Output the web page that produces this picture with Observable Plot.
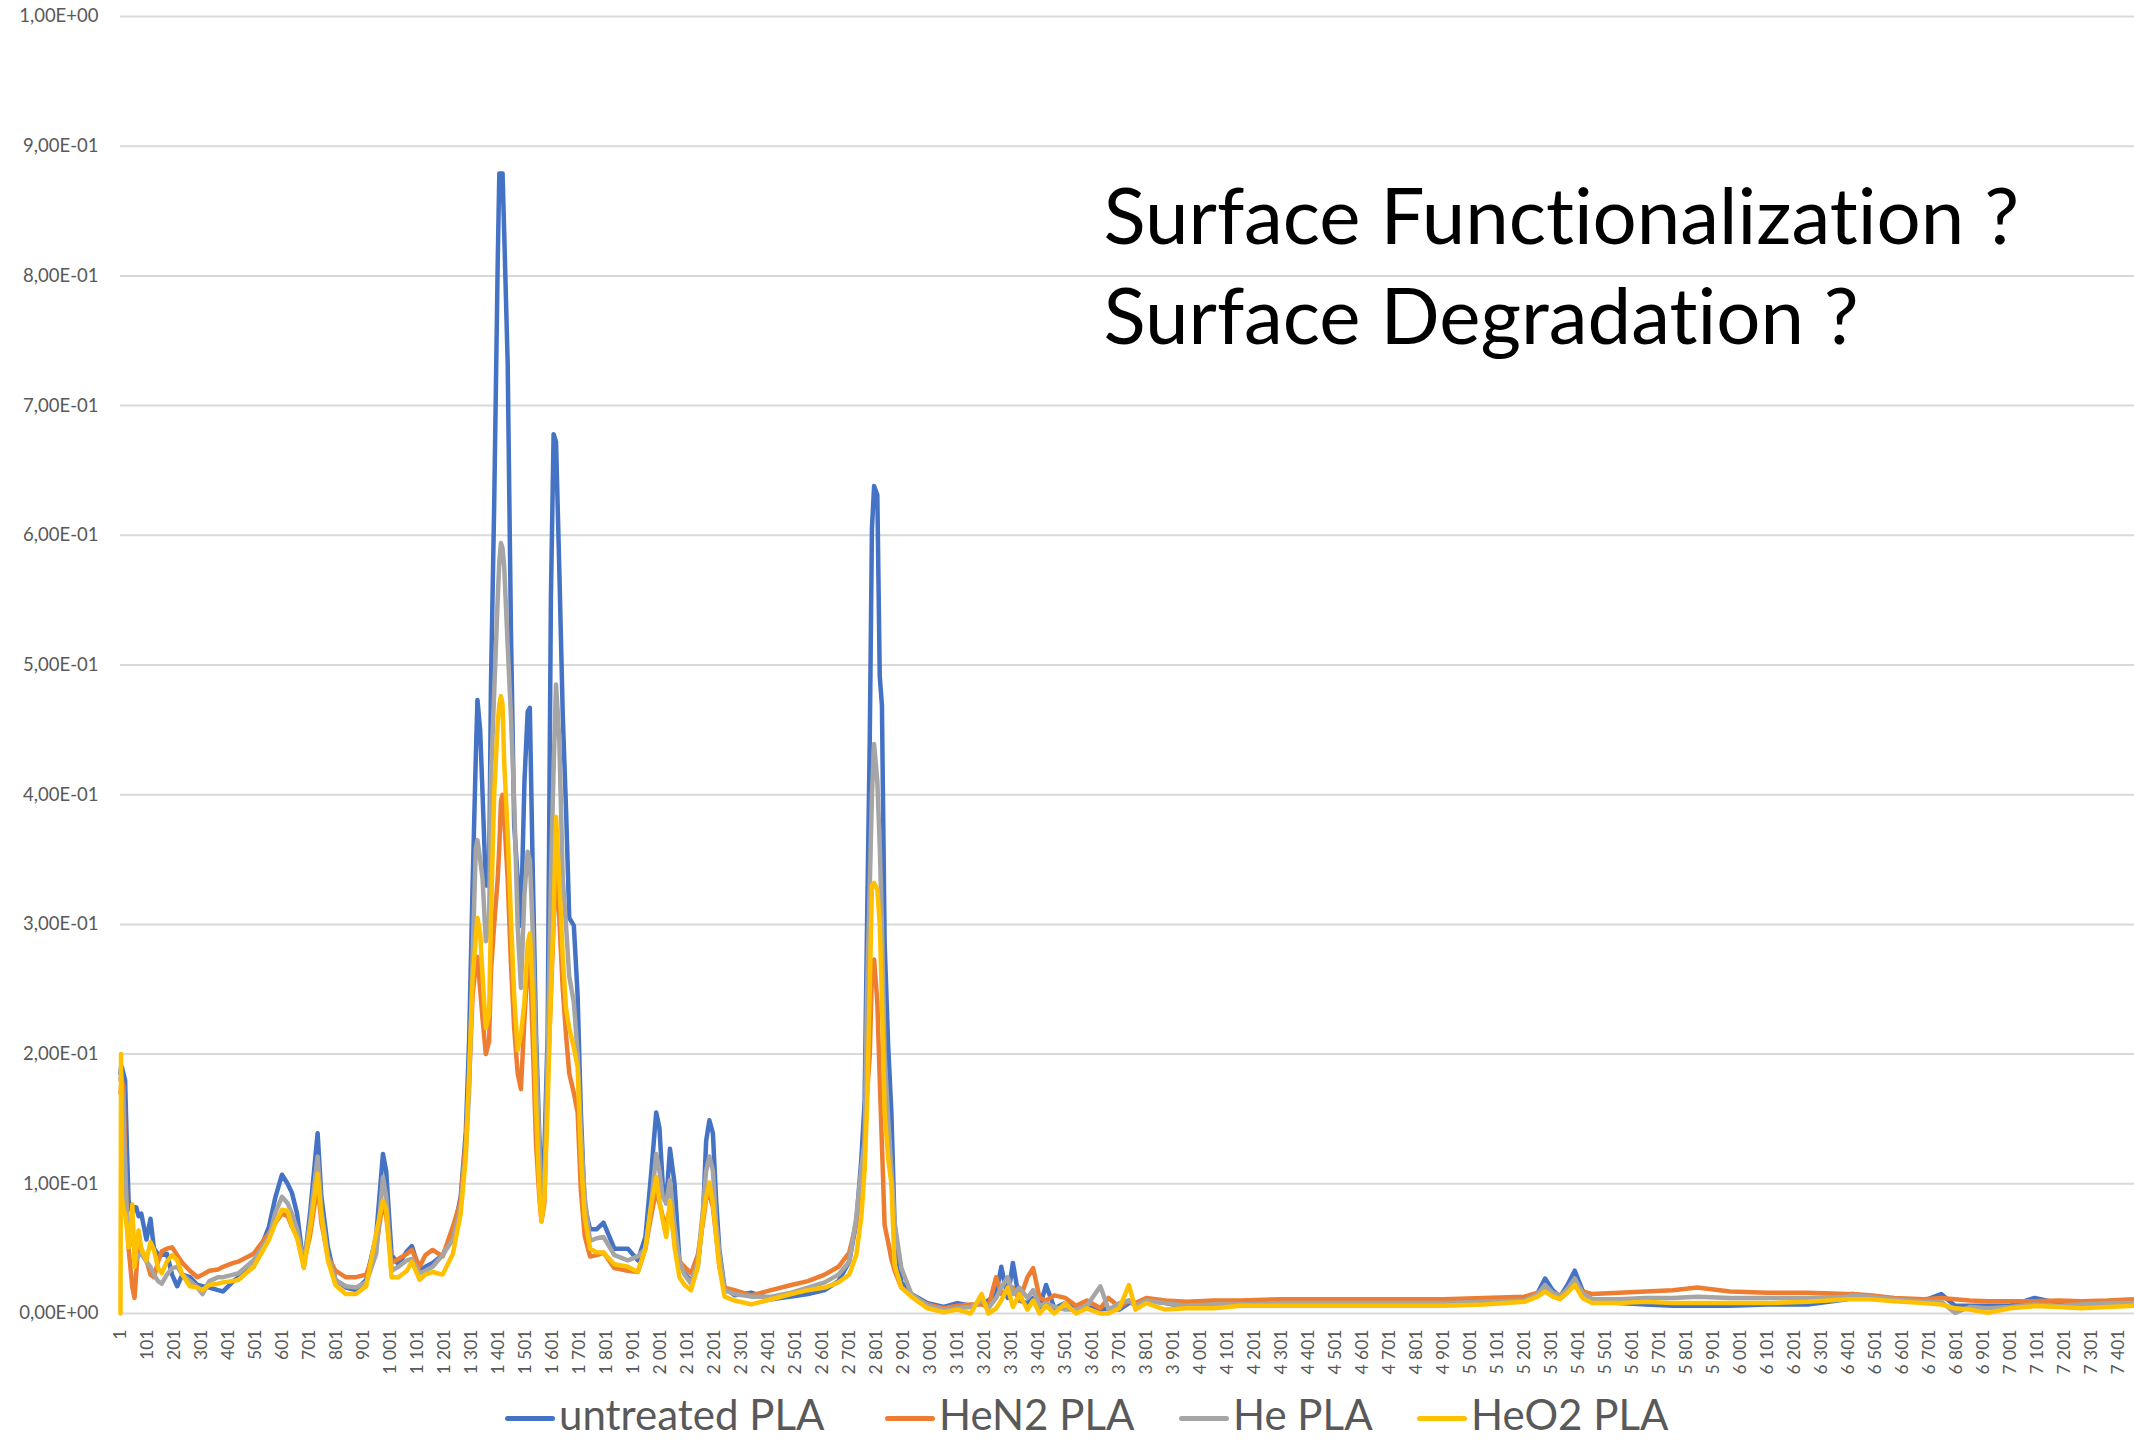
<!DOCTYPE html>
<html><head><meta charset="utf-8">
<script src="https://cdn.jsdelivr.net/npm/d3@7"></script>
<script src="https://cdn.jsdelivr.net/npm/@observablehq/plot@0.6"></script>
<style>
html,body{margin:0;padding:0;background:#fff;}
#wrap{width:2134px;height:1441px;position:relative;overflow:hidden;font-family:Lato,sans-serif;background:#fff;}
#legend{height:61px;position:relative;}
.item{display:flex;align-items:center;position:absolute;top:9px;}
.sw{width:50px;height:5px;border-radius:3px;margin-right:4px;position:relative;top:4px;}
.lab{font-size:42px;line-height:1.2;color:#595959;white-space:nowrap;}
svg text{font-variant-ligatures:none;}
</style></head>
<body><div id="wrap"><div id="chart"></div><div id="legend"></div></div>
<script>
const seriesNames = ["untreated PLA", "HeN2 PLA", "He PLA", "HeO2 PLA"];
const seriesColors = ["#4472C4", "#ED7D31", "#A5A5A5", "#FFC000"];
const legendLeft = [505, 885, 1179, 1417];
const annotation = "Surface Functionalization ?\nSurface Degradation ?";
const yTicks = [0, 0.1, 0.2, 0.3, 0.4, 0.5, 0.6, 0.7, 0.8, 0.9, 1];
const xTicks = d3.range(1, 7402, 100);

const xIndex = [
  1,3,6,12,18,25,31,40,45,53, 59,68,78,97,112,125,140,154,173,192,
  211,230,258,286,305,330,362,381,419,438, 494,551,575,599,620,636,655,680,703,731,
  745,769,797,835,873,911,948,973,985,1005, 1030,1062,1080,1109,1130,1157,1194,1232,1261,1280,
  1292,1305,1317,1323,1333,1342,1354,1366,1373,1385, 1398,1404,1410,1416,1422,1435,1447,1459,1472,1484,
  1497,1509,1517,1527,1540,1552,1560,1571,1583,1595, 1605,1614,1626,1639,1651,1663,1680,1694,1706,1720,
  1740,1765,1790,1830,1880,1917,1945,1966,1985,1997, 2009,2022,2036,2053,2071,
  2090,2114,2139,2158,2170,2182,2195,2207,2219,2238, 2275,2337,2411,2485,2547,2609,2660,2700,2726,2745,
  2757,2766,2776,2784,2792,2804,2813,2821,2831,2844, 2856,2868,2893,2930,2990,
  3050,3100,3150,3190,3215,3244,3263,3287,3306,3330, 3360,3381,3405,3429,3460,3500,3540,3580,3630,3660,
  3700,3736,3760,3800,3870,3950,4050,4150,4300,4500, 4700,4900,5050,5200,5250,5277,5305,5332,5360,5387,
  5415,5451,5550,5650,5750,5841,5962,6100,6250,6396, 6414,6480,6570,6680,6744,6795,6850,6917,7000,7090,
  7180,7264,7360,7460
];

const untreated = [
  0.185,0.19,0.19,0.185,0.18,0.126,0.087,0.08,0.078,0.082, 0.082,0.075,0.077,0.057,0.073,0.05,0.046,0.045,0.046,0.03,
  0.021,0.03,0.028,0.022,0.021,0.02,0.018,0.017,0.025,0.028, 0.036,0.067,0.09,0.107,0.1,0.093,0.077,0.036,0.077,0.139,
  0.09,0.051,0.026,0.02,0.018,0.026,0.06,0.123,0.11,0.045, 0.038,0.048,0.052,0.033,0.036,0.039,0.045,0.06,0.09,0.14,
  0.21,0.33,0.43,0.473,0.45,0.4,0.33,0.33,0.485,0.624, 0.81,0.879,0.879,0.879,0.834,0.732,0.527,0.377,0.335,0.299,
  0.41,0.464,0.467,0.35,0.215,0.137,0.104,0.125,0.215,0.551, 0.678,0.672,0.575,0.461,0.389,0.305,0.299,0.245,0.155,0.083,
  0.065,0.065,0.07,0.05,0.05,0.041,0.059,0.107,0.155,0.143, 0.1,0.085,0.127,0.1,0.041,
  0.031,0.025,0.036,0.074,0.133,0.149,0.139,0.087,0.049,0.02, 0.014,0.016,0.011,0.013,0.015,0.018,0.025,0.04,0.07,0.12,
  0.164,0.3,0.443,0.605,0.638,0.631,0.491,0.469,0.286,0.207, 0.155,0.068,0.024,0.015,0.008,
  0.005,0.008,0.006,0.008,0.01,0.015,0.036,0.012,0.039,0.01, 0.008,0.012,0.005,0.022,0.004,0.008,0.004,0.005,0.003,0.004,
  0.003,0.008,0.008,0.01,0.008,0.005,0.006,0.006,0.007,0.007, 0.007,0.007,0.008,0.01,0.016,0.027,0.018,0.013,0.022,0.033,
  0.018,0.01,0.008,0.007,0.006,0.006,0.006,0.007,0.007,0.011, 0.015,0.013,0.011,0.01,0.015,0.006,0.006,0.006,0.006,0.012,
  0.008,0.008,0.007,0.008
];

const heN2 = [
  0.17,0.175,0.18,0.175,0.12,0.07,0.05,0.031,0.02,0.012, 0.03,0.057,0.05,0.041,0.03,0.028,0.04,0.048,0.05,0.051,
  0.045,0.039,0.033,0.028,0.03,0.033,0.034,0.036,0.039,0.04, 0.046,0.062,0.07,0.077,0.075,0.067,0.06,0.039,0.06,0.1,
  0.07,0.044,0.033,0.028,0.028,0.03,0.051,0.087,0.075,0.039, 0.042,0.046,0.049,0.036,0.045,0.049,0.044,0.067,0.087,0.134,
  0.18,0.245,0.27,0.275,0.25,0.227,0.2,0.21,0.263,0.3, 0.335,0.36,0.395,0.4,0.383,0.335,0.27,0.22,0.185,0.173,
  0.227,0.27,0.275,0.215,0.131,0.09,0.071,0.085,0.18,0.245, 0.3,0.347,0.305,0.25,0.215,0.185,0.17,0.155,0.095,0.06,
  0.044,0.045,0.047,0.035,0.033,0.032,0.05,0.075,0.095,0.085, 0.075,0.067,0.082,0.056,0.04,
  0.036,0.031,0.045,0.07,0.088,0.092,0.082,0.06,0.036,0.02, 0.018,0.014,0.018,0.022,0.025,0.03,0.036,0.047,0.07,0.1,
  0.133,0.17,0.199,0.264,0.273,0.24,0.18,0.13,0.068,0.055, 0.042,0.033,0.02,0.014,0.007,
  0.004,0.006,0.007,0.007,0.005,0.028,0.015,0.018,0.02,0.01, 0.028,0.035,0.012,0.01,0.014,0.012,0.006,0.01,0.004,0.012,
  0.005,0.01,0.008,0.012,0.01,0.009,0.01,0.01,0.011,0.011, 0.011,0.011,0.012,0.013,0.016,0.02,0.016,0.014,0.018,0.025,
  0.017,0.015,0.016,0.017,0.018,0.02,0.017,0.016,0.016,0.015, 0.015,0.014,0.012,0.011,0.012,0.011,0.01,0.0095,0.0095,0.0095,
  0.01,0.0095,0.01,0.011
];

const he = [
  0.18,0.185,0.177,0.15,0.11,0.075,0.07,0.062,0.055,0.05, 0.041,0.045,0.046,0.04,0.036,0.03,0.025,0.023,0.03,0.035,
  0.036,0.03,0.025,0.02,0.015,0.025,0.028,0.028,0.03,0.031, 0.041,0.059,0.078,0.09,0.085,0.077,0.065,0.039,0.07,0.121,
  0.08,0.044,0.026,0.021,0.02,0.024,0.046,0.105,0.09,0.033, 0.036,0.041,0.042,0.031,0.033,0.036,0.045,0.057,0.082,0.126,
  0.17,0.275,0.359,0.365,0.35,0.335,0.287,0.3,0.413,0.479, 0.551,0.58,0.594,0.59,0.576,0.515,0.461,0.395,0.299,0.251,
  0.323,0.356,0.35,0.3,0.2,0.13,0.083,0.095,0.2,0.335, 0.42,0.485,0.443,0.335,0.299,0.26,0.24,0.2,0.14,0.09,
  0.056,0.058,0.059,0.045,0.041,0.044,0.05,0.083,0.123,0.11, 0.09,0.085,0.103,0.067,0.04,
  0.03,0.023,0.04,0.08,0.11,0.121,0.11,0.07,0.046,0.018, 0.015,0.013,0.013,0.016,0.02,0.024,0.03,0.04,0.074,0.113,
  0.133,0.25,0.33,0.4,0.439,0.41,0.36,0.3,0.2,0.15, 0.111,0.07,0.035,0.015,0.006,
  0.003,0.004,0.005,0.01,0.004,0.012,0.02,0.028,0.015,0.02, 0.012,0.018,0.006,0.008,0.005,0.003,0.003,0.006,0.021,0.003,
  0.008,0.01,0.006,0.01,0.008,0.006,0.007,0.007,0.008,0.008, 0.008,0.008,0.009,0.01,0.015,0.022,0.016,0.013,0.019,0.027,
  0.016,0.011,0.011,0.012,0.012,0.013,0.012,0.012,0.012,0.013, 0.014,0.013,0.011,0.009,0.009,0.0005,0.005,0.004,0.005,0.007,
  0.006,0.007,0.008,0.008
];

const heO2 = [
  0,0.2,0.09,0.08,0.077,0.065,0.051,0.07,0.084,0.036, 0.05,0.064,0.05,0.041,0.055,0.049,0.035,0.031,0.04,0.045,
  0.041,0.03,0.021,0.02,0.018,0.022,0.023,0.024,0.025,0.026, 0.036,0.057,0.07,0.08,0.079,0.067,0.058,0.035,0.065,0.108,
  0.075,0.041,0.022,0.015,0.015,0.021,0.062,0.087,0.08,0.028, 0.028,0.033,0.04,0.026,0.03,0.032,0.03,0.046,0.077,0.121,
  0.185,0.257,0.29,0.305,0.293,0.26,0.22,0.23,0.305,0.401, 0.455,0.47,0.476,0.47,0.425,0.371,0.305,0.245,0.203,0.215,
  0.24,0.285,0.293,0.251,0.16,0.095,0.071,0.09,0.16,0.25, 0.305,0.383,0.335,0.275,0.235,0.22,0.205,0.19,0.12,0.075,
  0.05,0.047,0.047,0.038,0.036,0.032,0.05,0.083,0.105,0.087, 0.072,0.059,0.087,0.051,0.028,
  0.022,0.018,0.036,0.074,0.09,0.101,0.085,0.06,0.036,0.013, 0.01,0.007,0.011,0.015,0.018,0.02,0.024,0.03,0.045,0.075,
  0.111,0.16,0.25,0.33,0.332,0.327,0.3,0.242,0.155,0.12, 0.1,0.037,0.02,0.013,0.004,
  0.001,0.003,0,0.015,0,0.004,0.01,0.02,0.005,0.015, 0.003,0.01,0,0.006,0,0.008,0,0.004,0,0,
  0.004,0.022,0.003,0.008,0.003,0.004,0.004,0.006,0.006,0.006, 0.006,0.006,0.007,0.009,0.013,0.017,0.013,0.011,0.016,0.022,
  0.012,0.008,0.008,0.009,0.008,0.008,0.008,0.008,0.009,0.011, 0.011,0.011,0.0095,0.008,0.007,0.004,0.003,0.0005,0.004,0.0057,
  0.005,0.004,0.005,0.006
];

const seriesValues = [untreated, heN2, he, heO2];

const fmtX = d3.formatLocale({decimal: ",", thousands: "\u00a0", grouping: [3], currency: ["", "\u00a0€"]}).format(",d");
const fmtY = d => {
  const [m, e] = d.toExponential(2).split("e");
  const n = +e;
  return m.replace(".", ",") + "E" + (n < 0 ? "-" : "+") + String(Math.abs(n)).padStart(2, "0");
};

const rows = [];
seriesNames.forEach((name, s) => seriesValues[s].forEach((v, i) => rows.push({series: name, x: xIndex[i], y: v})));

const chart = Plot.plot({
  width: 2134, height: 1380,
  marginLeft: 120, marginRight: 0, marginTop: 16, marginBottom: 67,
  style: {fontFamily: "Lato, sans-serif", background: "#fff", color: "#595959"},
  x: {type: "linear", domain: [1, 7460]},
  y: {domain: [0, 1]},
  color: {domain: seriesNames, range: seriesColors},
  marks: [
    Plot.gridY(yTicks, {stroke: "#d9d9d9", strokeOpacity: 1, strokeWidth: 2}),
    Plot.axisY(yTicks, {tickSize: 0, tickPadding: 22, fontSize: 18.5, tickFormat: fmtY, label: null}),
    Plot.axisX(xTicks, {tickSize: 0, tickPadding: 16, tickRotate: -90, fontSize: 17.5, tickFormat: fmtX, label: null}),
    Plot.line(rows, {x: "x", y: "y", z: "series", stroke: "series", strokeWidth: 4.5, strokeLinejoin: "round", strokeLinecap: "round"}),
    Plot.text([annotation], {frameAnchor: "top-left", dx: 983, dy: 327, text: d => d, lineAnchor: "bottom", textAnchor: "start", fontSize: 78, lineHeight: 1.282, fill: "#000"})
  ]
});
document.getElementById("chart").appendChild(chart);

const legend = document.getElementById("legend");
seriesNames.forEach((name, i) => {
  const item = document.createElement("div");
  item.className = "item";
  item.style.left = legendLeft[i] + "px";
  const sw = document.createElement("div");
  sw.className = "sw";
  sw.style.background = seriesColors[i];
  const lab = document.createElement("span");
  lab.className = "lab";
  lab.textContent = name;
  item.appendChild(sw); item.appendChild(lab);
  legend.appendChild(item);
});
</script>
</body></html>
